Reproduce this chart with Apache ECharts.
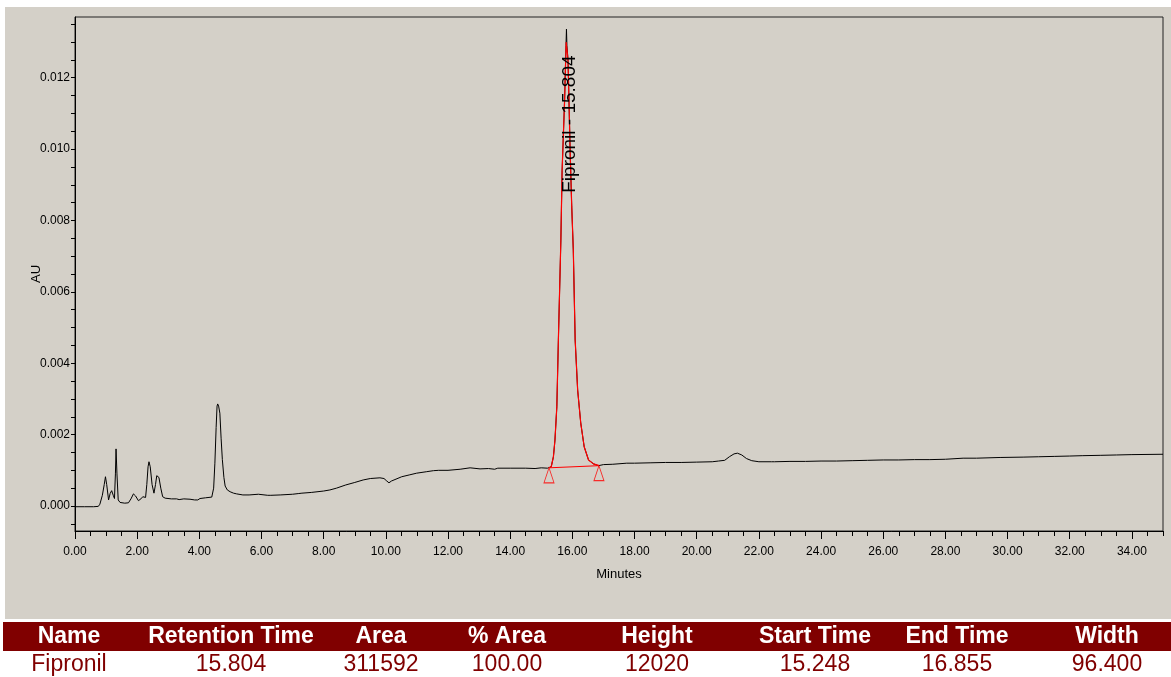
<!DOCTYPE html>
<html><head><meta charset="utf-8">
<script src="https://cdn.jsdelivr.net/npm/echarts@6/dist/echarts.min.js"></script>
<style>html,body{margin:0;padding:0;background:#fff}#c{width:1171px;height:677px}</style>
</head><body><div id="c"></div>
<script>
// ---- chromatogram trace (minutes, AU) ----
const times = [0,0.3,0.6,0.75,0.8,0.88,0.94,0.98,1.02,1.08,1.13,1.18,1.23,1.27,1.30,1.32,1.35,1.39,1.45,1.50,1.6,1.72,1.80,1.88,1.95,2.04,2.12,2.18,2.27,2.31,2.35,2.38,2.42,2.48,2.54,2.59,2.63,2.66,2.70,2.76,2.82,2.90,2.95,3.1,3.27,3.3,3.35,3.5,3.7,3.85,3.91,3.95,4.02,4.2,4.40,4.46,4.50,4.54,4.57,4.59,4.62,4.66,4.70,4.74,4.79,4.83,4.90,4.99,5.1,5.20,
5.4,5.6,5.9,5.95,6.2,6.25,6.3,6.6,7.0,7.2,7.25,7.3,7.6,8.0,8.2,8.41,8.71,9.0,9.27,9.5,9.81,9.94,10.03,10.10,10.18,10.24,10.51,10.75,10.99,11.3,11.53,11.7,12.0,12.39,12.71,13.03,13.3,13.5,13.6,14.0,14.5,14.8,15.0,15.2,15.25,
15.32,15.39,15.44,15.50,15.55,15.63,15.67,15.75,15.795,15.81,15.825,15.86,15.93,15.98,16.03,16.09,16.17,16.27,16.38,16.52,16.68,16.84,
17.0,17.3,17.75,17.8,18.0,18.5,19.0,19.5,20.0,20.5,20.7,20.9,21.05,21.2,21.31,21.45,21.6,21.77,21.8,22.0,22.4,22.45,22.5,23.0,23.5,24.0,24.5,25.0,25.5,26.0,26.5,27.0,27.5,28.0,28.57,29.0,29.76,30.5,31.0,31.5,32.0,32.4,33.0,33.5,34.0,35.0];
const absorbance = [-0.00002,-0.00002,-0.00002,-0.00001,0.00005,0.0003,0.0006,0.00082,0.0006,0.00017,0.00035,0.00043,0.0003,0.00021,0.0009,0.0016,0.0009,0.00017,0.0001,0.00009,0.00008,0.00009,0.0002,0.00034,0.00028,0.00015,0.0002,0.00026,0.00024,0.0006,0.0011,0.00124,0.0011,0.0006,0.00036,0.0006,0.00085,0.00089,0.0008,0.0005,0.00026,0.00022,0.00021,0.0002,0.0002,0.00024,0.00018,0.0002,0.00019,0.00017,0.00013,0.00017,0.00021,0.00023,0.00025,0.0005,0.0012,0.0022,0.0028,0.00286,0.0028,0.0026,0.0019,0.0013,0.0008,0.00056,0.00045,0.0004,0.00036,0.00034,
0.00031,0.00031,0.00033,0.00031,0.0003,0.00026,0.0003,0.00031,0.00033,0.00035,0.00032,0.00036,0.00038,0.00042,0.00045,0.0005,0.00059,0.00066,0.00073,0.00077,0.00079,0.00077,0.0007,0.00065,0.0007,0.00075,0.00082,0.00087,0.00092,0.00096,0.00099,0.001,0.001,0.00103,0.00107,0.00104,0.00105,0.00103,0.00106,0.00106,0.00106,0.00105,0.00107,0.00106,0.00107,
0.0011,0.00138,0.00185,0.00278,0.00465,0.00745,0.0094,0.01137,0.0129,0.01336,0.0129,0.0125,0.00988,0.00838,0.00717,0.00465,0.00325,0.00232,0.00166,0.00129,0.00118,0.00113,
0.00116,0.00117,0.0012,0.00122,0.0012,0.00121,0.00122,0.00122,0.00123,0.00124,0.00126,0.00128,0.00138,0.00146,0.00148,0.00143,0.00133,0.00127,0.00124,0.00124,0.00124,0.0012,0.00124,0.00125,0.00125,0.00126,0.00126,0.00127,0.00128,0.00129,0.00129,0.0013,0.0013,0.00131,0.00134,0.00134,0.00136,0.00137,0.00138,0.00139,0.0014,0.00141,0.00142,0.00143,0.00144,0.00145];

// ---- integrated peak overlay ----
const peakTimes = [15.248,15.32,15.39,15.44,15.50,15.55,15.63,15.67,15.75,15.80,15.86,15.93,15.98,16.03,16.09,16.17,16.27,16.38,16.52,16.68,16.855];
const peakAbsorbance = [0.00107,0.0011,0.00138,0.00185,0.00278,0.00465,0.00745,0.0094,0.01137,0.0130,0.0125,0.00988,0.00838,0.00717,0.00465,0.00325,0.00232,0.00166,0.00129,0.00118,0.00113];
const peakBoundTimes = [15.248, 16.855];
const peakBoundAbs = [0.00107, 0.00113];
const peakName = 'Fipronil';
const retentionTime = 15.804;
const peakLabelAbs = 0.0107;

// ---- axes ----
const xTickLabels = [0,2,4,6,8,10,12,14,16,18,20,22,24,26,28,30,32,34];
const yTickLabels = [0,0.002,0.004,0.006,0.008,0.010,0.012];
const xAxisName = 'Minutes';
const yAxisName = 'AU';

// ---- results table ----
const tableHeaders = ['Name','Retention Time','Area','% Area','Height','Start Time','End Time','Width'];
const tableRow = ['Fipronil','15.804','311592','100.00','12020','15.248','16.855','96.400'];

// layout
const colCenters = [69,231,381,507,657,815,957,1107];
const xMinor = []; for (let k = 0; k <= 70; k++) xMinor.push(k / 2);
const yMinor = []; for (let k = -1; k <= 27; k++) yMinor.push(k * 5 / 10000);

const FONT = "'Liberation Sans Narrow','Liberation Sans',Arial,sans-serif";
const chart = echarts.init(document.getElementById('c'));
const trace = times.map((t, i) => [t, absorbance[i]]);
const peak = peakTimes.map((t, i) => [t, peakAbsorbance[i]]);
const bounds = peakBoundTimes.map((t, i) => [t, peakBoundAbs[i]]);

const graphics = [
  {type:'rect', shape:{x:5,y:7,width:1166,height:612}, style:{fill:'#d4d0c8'}, z:-10, silent:true},
  {type:'rect', shape:{x:3,y:622,width:1168,height:29}, style:{fill:'#800000'}, z:-9, silent:true}
];
tableHeaders.forEach((h, i) => graphics.push({type:'text', x:colCenters[i], y:637, style:{text:h, fill:'#fff', font:"bold 23px 'Liberation Sans',Arial,sans-serif", align:'center', verticalAlign:'middle'}}));
tableRow.forEach((h, i) => graphics.push({type:'text', x:colCenters[i], y:665, style:{text:h, fill:'#800000', font:"23px 'Liberation Sans',Arial,sans-serif", align:'center', verticalAlign:'middle'}}));

chart.setOption({
  animation: false,
  backgroundColor: '#ffffff',
  grid: {left:75, top:17, width:1088, height:514, show:true, borderColor:'#222', borderWidth:1, backgroundColor:'transparent'},
  xAxis: [{
    type:'value', min:0, max:35, position:'bottom',
    axisLine:{show:true, onZero:false, lineStyle:{color:'#000', width:1}},
    axisTick:{show:true, customValues:xTickLabels, length:8, lineStyle:{color:'#000'}},
    axisLabel:{customValues:xTickLabels, formatter:v => v.toFixed(2), color:'#000', fontFamily:FONT, fontSize:12, margin:15},
    splitLine:{show:false},
    name:xAxisName, nameLocation:'middle', nameGap:37, nameMoveOverlap:false, nameTextStyle:{color:'#000', fontFamily:FONT, fontSize:13}
  },{
    type:'value', min:0, max:35, position:'bottom',
    axisLine:{show:false, onZero:false},
    axisTick:{show:true, customValues:xMinor, length:5, lineStyle:{color:'#000'}},
    axisLabel:{show:false}, splitLine:{show:false}
  }],
  yAxis: {
    type:'value', min:-0.0007, max:0.0137,
    axisLine:{show:true, onZero:false, lineStyle:{color:'#000', width:1}},
    axisTick:{show:true, customValues:yMinor, length:4, lineStyle:{color:'#000'}},
    axisLabel:{customValues:yTickLabels, formatter:v => v.toFixed(3), color:'#000', fontFamily:FONT, fontSize:12, margin:5},
    splitLine:{show:false},
    name:yAxisName, nameLocation:'middle', nameGap:32, nameRotate:90, nameMoveOverlap:false, nameTextStyle:{color:'#000', fontFamily:FONT, fontSize:13}
  },
  series: [
    {type:'line', data:trace, xAxisIndex:0, showSymbol:false, symbol:'none', lineStyle:{color:'#000', width:1}, z:2, silent:true},
    {type:'line', data:peak, xAxisIndex:0, showSymbol:false, symbol:'none', lineStyle:{color:'#ff0000', width:1.2}, z:3, silent:true},
    {type:'line', data:bounds, xAxisIndex:0, showSymbol:false, symbol:'none', lineStyle:{color:'#ff0000', width:1}, z:3, silent:true},
    {type:'scatter', data:bounds, xAxisIndex:0, symbol:'triangle', symbolSize:[10,15], symbolOffset:[0,7.5], itemStyle:{color:'rgba(0,0,0,0)', borderColor:'#ff0000', borderWidth:1}, z:4, silent:true}
  ],
  graphic: graphics
});

const p = chart.convertToPixel({gridIndex:0}, [retentionTime, peakLabelAbs]);
graphics.push({type:'text', x:p[0] + 3.5, y:p[1], rotation:Math.PI/2, style:{text:peakName + ' - ' + retentionTime.toFixed(3), fill:'#000', font:"19px 'Liberation Sans',Arial,sans-serif", align:'center', verticalAlign:'middle'}, z:5});
chart.setOption({graphic: graphics});
</script></body></html>
